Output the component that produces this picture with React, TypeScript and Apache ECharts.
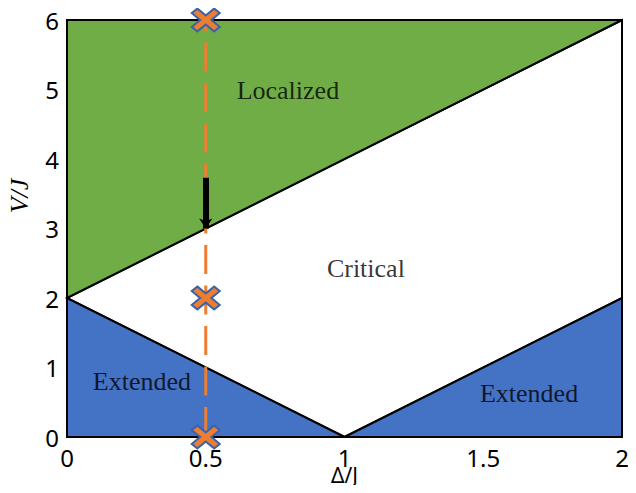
import React, { useEffect, useRef } from "react";
import * as echarts from "echarts";

// Phase regions (Δ/J, V/J)
const localizedRegion = [[0, 2], [0, 6], [2, 6]];
const criticalRegion = [[0, 2], [2, 6], [2, 2], [1, 0]];
const extendedLeftRegion = [[0, 0], [0, 2], [1, 0]];
const extendedRightRegion = [[1, 0], [2, 0], [2, 2]];

// Path along Δ/J = 0.5
const pathLine = [[0.5, 6], [0.5, 0]];
const crossPoints = [[0.5, 6], [0.5, 2], [0.5, 0]];
const arrowCoords = [[0.5, 3.73], [0.5, 3.0]];

// Region labels
const regionLabels = [
  { name: "Localized", value: [0.796, 4.98] },
  { name: "Critical", value: [1.077, 2.43] },
  { name: "Extended", value: [0.27, 0.8] },
  { name: "Extended", value: [1.665, 0.62] },
];

const xTicks = [0, 0.5, 1, 1.5, 2];
const yTicks = [0, 1, 2, 3, 4, 5, 6];

const GREEN = "#70AD47";
const BLUE = "#4472C4";
const ORANGE = "#ED7D31";

const crossPath =
  "path://M2,0 L5,3 L8,0 L10,2 L7,5 L10,8 L8,10 L5,7 L2,10 L0,8 L3,5 L0,2 Z";

function polygonSeries(points: number[][], fill: string) {
  return {
    type: "custom",
    coordinateSystem: "cartesian2d",
    data: points,
    clip: false,
    silent: true,
    z: 1,
    renderItem: (params: any, api: any) => {
      if (params.dataIndex !== 0) return null;
      return {
        type: "polygon",
        shape: { points: points.map((p) => api.coord(p)) },
        style: { fill, stroke: "#000", lineWidth: 2, lineJoin: "miter" },
      };
    },
  };
}

export default function App() {
  const ref = useRef<HTMLDivElement>(null);
  useEffect(() => {
    if (!ref.current) return;
    const chart = echarts.init(ref.current, null, { renderer: "svg" });
    chart.setOption({
      animation: false,
      backgroundColor: "#fff",
      grid: {
        left: 67,
        right: 14,
        top: 20,
        bottom: 56,
        containLabel: false,
        outerBoundsMode: "none",
      },
      xAxis: {
        type: "value",
        min: xTicks[0],
        max: xTicks[xTicks.length - 1],
        interval: 0.5,
        name: "Δ/J",
        nameLocation: "middle",
        nameGap: 28,
        nameMoveOverlap: false,
        nameTextStyle: {
          fontFamily: "Noto Sans",
          fontSize: 21,
          lineHeight: 19,
          color: "#000",
        },
        axisLine: { show: false },
        axisTick: { show: false },
        splitLine: { show: false },
        axisLabel: {
          fontFamily: "Noto Sans",
          fontSize: 24,
          lineHeight: 18,
          color: "#000",
          margin: 11,
          formatter: (v: number) => String(v),
        },
      },
      yAxis: {
        type: "value",
        min: yTicks[0],
        max: yTicks[yTicks.length - 1],
        interval: 1,
        axisLine: { show: false },
        axisTick: { show: false },
        splitLine: { show: false },
        axisLabel: {
          fontFamily: "Noto Sans",
          fontSize: 24,
          color: "#000",
          margin: 8,
        },
      },
      graphic: [
        {
          type: "text",
          x: 19,
          y: 196,
          rotation: Math.PI / 2,
          style: {
            text: "V/J",
            fontFamily: "Liberation Serif",
            fontStyle: "italic",
            fontSize: 26,
            fill: "#000",
            align: "center",
            verticalAlign: "middle",
          },
        },
      ],
      series: [
        polygonSeries(criticalRegion, "#ffffff"),
        polygonSeries(localizedRegion, GREEN),
        polygonSeries(extendedLeftRegion, BLUE),
        polygonSeries(extendedRightRegion, BLUE),
        {
          type: "line",
          data: pathLine,
          symbol: "none",
          z: 3,
          lineStyle: { color: ORANGE, width: 3, type: [29, 11.5], dashOffset: 17.5 },
          silent: true,
        },
        {
          type: "lines",
          coordinateSystem: "cartesian2d",
          z: 4,
          symbol: ["none", "arrow"],
          symbolSize: [14, 10],
          lineStyle: { color: "#000", width: 6, opacity: 1 },
          data: [{ coords: arrowCoords }],
          silent: true,
        },
        {
          type: "scatter",
          data: crossPoints,
          symbol: crossPath,
          symbolSize: [28, 23],
          z: 5,
          itemStyle: { color: ORANGE, borderColor: "#3B63A8", borderWidth: 2, opacity: 1 },
          silent: true,
        },
        {
          type: "scatter",
          data: regionLabels,
          symbolSize: 0,
          z: 6,
          silent: true,
          label: {
            show: true,
            position: "inside",
            formatter: (p: any) => p.name,
            fontFamily: "Liberation Serif",
            fontSize: 26,
            color: "#000",
          },
        },
      ],
    });
    return () => chart.dispose();
  }, []);
  return <div ref={ref} style={{ width: 636, height: 493, margin: -8 }} />;
}
